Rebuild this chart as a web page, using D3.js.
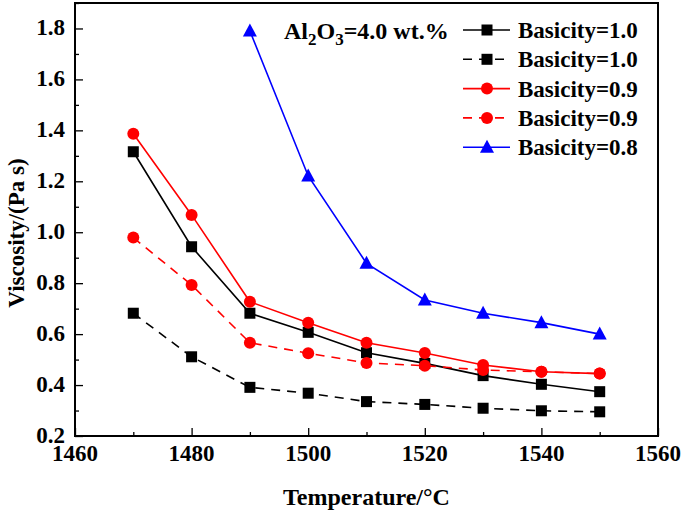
<!DOCTYPE html>
<html>
<head>
<meta charset="utf-8">
<script src="https://cdn.jsdelivr.net/npm/d3@7"></script>
<style>
  body { margin: 0; background: #fff; }
  text { font-family: "Liberation Serif", "Times New Roman", serif; font-weight: bold; }
</style>
</head>
<body>
<div id="content"></div>
<script>
var width = 685, height = 513
var margin = {left: 75, right: 27, top: 3, bottom: 77}

// data
var temps = [1470, 1480, 1490, 1500, 1510, 1520, 1530, 1540, 1550]
var b10Solid = [1.316, 0.943, 0.682, 0.607, 0.527, 0.485, 0.437, 0.403, 0.374]
var b10Dash = [0.682, 0.511, 0.391, 0.368, 0.335, 0.324, 0.309, 0.299, 0.295]
var b09Solid = [1.387, 1.068, 0.727, 0.645, 0.566, 0.526, 0.479, 0.452, 0.445]
var b09Dash = [0.979, 0.793, 0.566, 0.525, 0.487, 0.476, 0.459, 0.452, 0.445]
var b08Temps = [1490, 1500, 1510, 1520, 1530, 1540, 1550]
var b08Solid = [1.79, 1.221, 0.878, 0.734, 0.682, 0.645, 0.600]
var xTicks = [1460, 1480, 1500, 1520, 1540, 1560]
var yTicks = [0.2, 0.4, 0.6, 0.8, 1.0, 1.2, 1.4, 1.6, 1.8]

var series = [
    {name: 'Basicity=1.0', x: temps, y: b10Solid, color: '#000', dash: null, marker: 'square'},
    {name: 'Basicity=1.0', x: temps, y: b10Dash, color: '#000', dash: '9,7', marker: 'square'},
    {name: 'Basicity=0.9', x: temps, y: b09Solid, color: '#f00', dash: null, marker: 'circle'},
    {name: 'Basicity=0.9', x: temps, y: b09Dash, color: '#f00', dash: '9,7', marker: 'circle'},
    {name: 'Basicity=0.8', x: b08Temps, y: b08Solid, color: '#00f', dash: null, marker: 'triangle'}
]

var svg = d3.select('#content')
    .append('svg')
    .attr('width', width)
    .attr('height', height)

var x = d3.scaleLinear().domain([1460, 1560]).range([margin.left, width - margin.right])
var y = d3.scaleLinear().domain([0.2, 1.9]).range([height - margin.bottom, margin.top])

// axes (ticks inside)
svg.append('g')
    .attr('transform', `translate(0,${height - margin.bottom})`)
    .call(d3.axisBottom(x).tickValues(d3.range(1460, 1561, 10)).tickSize(-8).tickFormat(''))
    .call(g => g.selectAll('.tick line').attr('stroke-width', 1.3).filter(d => d % 20 != 0).attr('y2', -4))
svg.append('g')
    .attr('transform', `translate(${margin.left},0)`)
    .call(d3.axisLeft(y).tickValues(d3.range(0.2, 1.91, 0.1)).tickSize(-8).tickFormat(''))
    .call(g => g.selectAll('.tick line').attr('stroke-width', 1.3)
        .filter(d => Math.round(d * 10) % 2 == 1).attr('x2', 4))
svg.selectAll('.domain').remove()

svg.append('g').selectAll('text')
    .data(xTicks)
    .join('text')
    .attr('x', d => x(d))
    .attr('y', height - margin.bottom + 25)
    .attr('text-anchor', 'middle')
    .attr('font-size', 23)
    .text(d => d)

svg.append('g').selectAll('text')
    .data(yTicks)
    .join('text')
    .attr('x', margin.left - 10)
    .attr('y', d => y(d) + 7)
    .attr('text-anchor', 'end')
    .attr('font-size', 23)
    .text(d => d3.format('.1f')(d))

// frame
svg.append('rect')
    .attr('x', margin.left)
    .attr('y', margin.top)
    .attr('width', width - margin.right - margin.left)
    .attr('height', height - margin.bottom - margin.top)
    .attr('fill', 'none')
    .attr('stroke', '#000')
    .attr('stroke-width', 2)

// axis titles
svg.append('text')
    .attr('x', (margin.left + width - margin.right) / 2)
    .attr('y', 505)
    .attr('text-anchor', 'middle')
    .attr('font-size', 24)
    .text('Temperature/°C')

svg.append('text')
    .attr('transform', 'translate(24,233) rotate(-90)')
    .attr('text-anchor', 'middle')
    .attr('font-size', 23)
    .text('Viscosity/(Pa s)')

function drawMarker(g, type, color) {
    if (type == 'square') {
        g.append('rect').attr('x', -5.5).attr('y', -5.5).attr('width', 11).attr('height', 11).attr('fill', color)
    } else if (type == 'circle') {
        g.append('circle').attr('r', 6).attr('fill', color)
    } else {
        g.append('path').attr('d', 'M0,-7.5L7,5.5L-7,5.5Z').attr('fill', color)
    }
}

var line = d3.line().x(d => x(d[0])).y(d => y(d[1]))

series.forEach(function(s) {
    var pts = s.x.map((t, i) => [t, s.y[i]])
    svg.append('path')
        .datum(pts)
        .attr('d', line)
        .attr('fill', 'none')
        .attr('stroke', s.color)
        .attr('stroke-width', 1.6)
        .attr('stroke-dasharray', s.dash)
    pts.forEach(function(p) {
        var g = svg.append('g').attr('transform', `translate(${x(p[0])},${y(p[1])})`)
        drawMarker(g, s.marker, s.color)
    })
})

// legend
var legend = svg.append('g')
series.forEach(function(s, i) {
    var ly = 30 + i * 29.3
    legend.append('line')
        .attr('x1', 463).attr('x2', 510)
        .attr('y1', ly).attr('y2', ly)
        .attr('stroke', s.color)
        .attr('stroke-width', 1.6)
        .attr('stroke-dasharray', s.dash)
    var g = legend.append('g').attr('transform', `translate(487,${ly})`)
    drawMarker(g, s.marker, s.color)
    legend.append('text')
        .attr('x', 518)
        .attr('y', ly + 8)
        .attr('font-size', 23)
        .text(s.name)
})

var note = svg.append('text')
    .attr('x', 284)
    .attr('y', 39)
    .attr('font-size', 24)
note.append('tspan').text('Al')
note.append('tspan').attr('font-size', 17).attr('dy', 6).text('2')
note.append('tspan').attr('dy', -6).text('O')
note.append('tspan').attr('font-size', 17).attr('dy', 6).text('3')
note.append('tspan').attr('dy', -6).text('=4.0 wt.%')
</script>
</body>
</html>
